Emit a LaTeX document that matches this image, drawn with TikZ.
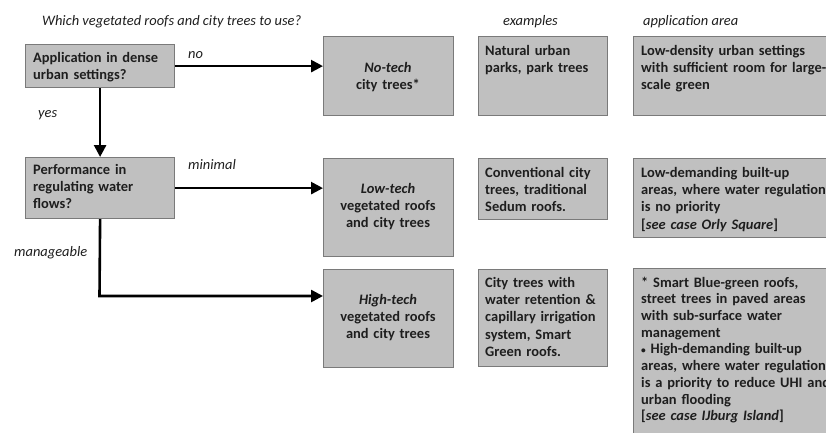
\documentclass[tikz,border=0pt]{standalone}
\usepackage{fontspec}
\usepackage{graphicx}
\setmainfont{Carlito}
\usetikzlibrary{arrows.meta}
\definecolor{boxfill}{HTML}{C0C0C0}
\definecolor{boxline}{HTML}{7A7A7A}
\definecolor{ink}{HTML}{1E1E1E}
\newcommand{\smallbul}{\raisebox{0.12ex}{\scalebox{0.65}{•}}}
\tikzset{
  box/.style={draw=boxline, line width=1.2bp, fill=boxfill, inner sep=0pt, anchor=north west},
  btext/.style={anchor=base west, inner sep=0pt, align=left, text=ink,
    font=\fontsize{14.5}{17.5}\selectfont\bfseries},
  ctext/.style={anchor=base, inner sep=0pt, align=center, text=ink,
    font=\fontsize{14.5}{17.5}\selectfont\bfseries},
  lbl/.style={anchor=base west, inner sep=0pt, text=ink,
    font=\fontsize{14.5}{17.5}\selectfont\itshape},
  flow/.style={line width=2.6bp, -{Triangle[length=12bp,width=12bp]}},
}
\begin{document}
\begin{tikzpicture}[x=1bp,y=-1bp]
\useasboundingbox (0,0) rectangle (826,432);
\clip (0,0) rectangle (826,432);

% headers
\node[lbl] (title) at (42,25) {Which vegetated roofs and city trees to use?};
\node[lbl] (hex) at (503,25) {examples};
\node[lbl] (hap) at (643,25) {application area};

% boxes
\node[box, minimum width=149bp, minimum height=43bp] (A) at (25,44) {};
\node[box, minimum width=130bp, minimum height=79bp] (NT) at (323,36) {};
\node[box, minimum width=129bp, minimum height=79bp] (E1) at (478,36) {};
\node[box, minimum width=217bp, minimum height=79bp] (P1) at (633,36) {};

\node[box, minimum width=149bp, minimum height=61bp] (B) at (25,157) {};
\node[box, minimum width=130bp, minimum height=98bp] (LT) at (323,158) {};
\node[box, minimum width=129bp, minimum height=61bp] (E2) at (478,158) {};
\node[box, minimum width=217bp, minimum height=79bp] (P2) at (633,158) {};

\node[box, minimum width=130bp, minimum height=98bp] (HT) at (323,269) {};
\node[box, minimum width=129bp, minimum height=97bp] (E3) at (478,269) {};
\node[box, minimum width=217bp, minimum height=182bp] (P3) at (633,268) {};

% box texts
\node[btext, text width=140bp] (At) at (33,62) {Application in dense\\urban settings?};
\node[btext, text width=140bp] (Bt) at (33,174) {Performance in\\regulating water\\flows?};
\node[ctext, text width=125bp] (NTt) at (388,72) {\textit{No-tech}\\city trees*};
\node[ctext, text width=125bp] (LTt) at (388,193) {\textit{Low-tech}\\vegetated roofs\\and city trees};
\node[ctext, text width=125bp] (HTt) at (388,304) {\textit{High-tech}\\vegetated roofs\\and city trees};
\node[btext, text width=125bp] (E1t) at (485,55) {Natural urban\\parks, park trees};
\node[btext, text width=125bp] (E2t) at (485,177) {Conventional city\\trees, traditional\\Sedum roofs.};
\node[btext, text width=125bp] (E3t) at (485,287) {City trees with\\water retention \&\\capillary irrigation\\system, Smart\\Green roofs.};
\node[btext, text width=260bp] (P1t) at (641,55) {Low-density urban settings\\with sufficient room for large-\\scale green};
\node[btext, text width=260bp] (P2t) at (641,177) {Low-demanding built-up\\areas, where water regulation\\is no priority\\{[}\textit{see case Orly Square}{]}};
\node[btext, text width=260bp, font=\fontsize{14.5}{16.8}\selectfont\bfseries] (P3t) at (641,287)
  {* Smart Blue-green roofs,\\street trees in paved areas\\with sub-surface water\\management\\\smallbul{} High-demanding built-up\\areas, where water regulation\\is a priority to reduce UHI and\\urban flooding\\{[}\textit{see case IJburg Island}{]}};

% connector labels
\node[lbl] (lno) at (188,58) {no};
\node[lbl] (lyes) at (38,117) {yes};
\node[lbl] (lmin) at (188,169) {minimal};
\node[lbl] (lman) at (14,256) {manageable};

% connectors
\draw[flow] (A.east) -- (A.east -| NT.west);
\draw[flow] (A.south) -- (B.north);
\draw[flow] (B.east) -- (B.east -| LT.west);
\coordinate (corner) at (99.5,296);
\draw[flow] (B.south) -- (corner) -- (corner -| HT.west);
\end{tikzpicture}
\end{document}
